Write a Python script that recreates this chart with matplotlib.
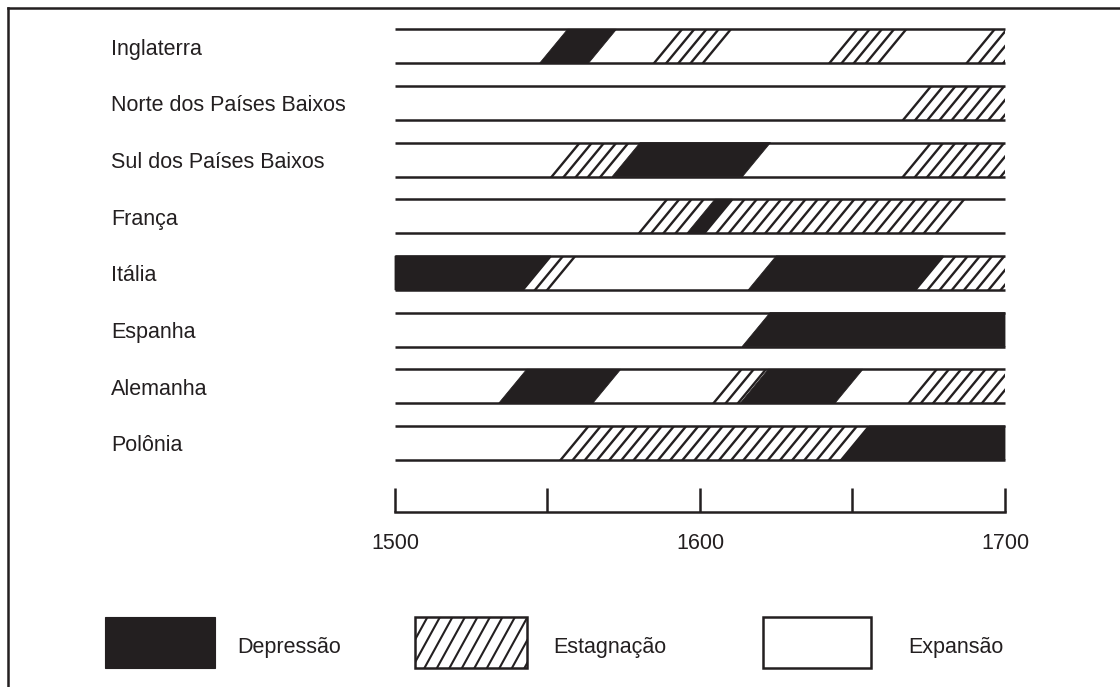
import numpy as np
import matplotlib
matplotlib.use("Agg")
import matplotlib.pyplot as plt
from matplotlib.patches import Polygon, Rectangle
from matplotlib import font_manager

# ---------------- data ----------------
countries = ["Inglaterra", "Norte dos Países Baixos", "Sul dos Países Baixos",
             "França", "Itália", "Espanha", "Alemanha", "Polônia"]

# boundaries (year at mid-height of each slanted boundary) and phase of each interval
inglaterra_bounds = [1500, 1552.0, 1568.0, 1589.5, 1605.7, 1647.0, 1663.0, 1692.0, 1700]
inglaterra_states = ["exp", "dep", "exp", "est", "exp", "est", "exp", "est"]
norte_bounds = [1500, 1671.2, 1700]
norte_states = ["exp", "est"]
sul_bounds = [1500, 1556.0, 1575.8, 1618.5, 1671.2, 1700]
sul_states = ["exp", "est", "dep", "exp", "est"]
franca_bounds = [1500, 1584.6, 1600.3, 1606.0, 1684.8, 1700]
franca_states = ["exp", "est", "dep", "est", "exp"]
italia_bounds = [1500, 1546.5, 1556.0, 1620.4, 1675.2, 1700]
italia_states = ["dep", "est", "exp", "dep", "est"]
espanha_bounds = [1500, 1618.4, 1700]
espanha_states = ["exp", "dep"]
alemanha_bounds = [1500, 1538.6, 1569.4, 1609.0, 1617.8, 1648.8, 1673.0, 1700]
alemanha_states = ["exp", "dep", "exp", "est", "dep", "exp", "est"]
polonia_bounds = [1500, 1558.9, 1651.0, 1700]
polonia_states = ["exp", "est", "dep"]

all_bounds = [inglaterra_bounds, norte_bounds, sul_bounds, franca_bounds,
              italia_bounds, espanha_bounds, alemanha_bounds, polonia_bounds]
all_states = [inglaterra_states, norte_states, sul_states, franca_states,
              italia_states, espanha_states, alemanha_states, polonia_states]

axis_ticks = [1500, 1550, 1600, 1650, 1700]
axis_labels = ["1500", "", "1600", "", "1700"]
legend_labels = ["Depressão", "Estagnação", "Expansão"]

# ---------------- style ----------------
INK = "#231f20"
names = {f.name for f in font_manager.fontManager.ttflist}
if "Liberation Sans Narrow" in names:
    FONT, FS = "Liberation Sans Narrow", 19
else:
    FONT, FS = "Liberation Sans", 15.5
plt.rcParams["font.family"] = [FONT, "DejaVu Sans"]

W, H = 1120, 687
fig = plt.figure(figsize=(W / 100, H / 100), dpi=100)
ax = fig.add_axes([0, 0, 1, 1])

X0, X1 = 1500, 1700
px_per_year = 3.05
x_left_px = 395
ax.set_xlim(X0 - x_left_px / px_per_year, X0 + (W - x_left_px) / px_per_year)
row0_px, row_sp = 46.3, 56.67
ax.set_ylim((H - row0_px) / row_sp, -row0_px / row_sp)

hh = 17.0 / row_sp          # half band height (rows)
slant = 4.6                 # half horizontal offset of boundaries (years)
step = 4.0                  # hatch spacing (years)
band_lw = 1.8
hatch_lw = 1.7


def seg_poly(a, b, r):
    top, bot = r - hh, r + hh
    lt = a + slant if a > X0 else X0
    lb = a - slant if a > X0 else X0
    rt = b + slant if b < X1 else X1
    rb = b - slant if b < X1 else X1
    return [(lb, bot), (lt, top), (rt, top), (rb, bot)]


for r, (bounds, states) in enumerate(zip(all_bounds, all_states)):
    band_clip = Rectangle((X0, r - hh), X1 - X0, 2 * hh, facecolor="none",
                          edgecolor="none", zorder=0)
    ax.add_patch(band_clip)
    for a, b, s in zip(bounds[:-1], bounds[1:], states):
        if s == "dep":
            ax.add_patch(Polygon(seg_poly(a, b, r), closed=True, facecolor=INK,
                                 edgecolor=INK, lw=0.6, zorder=2))
        elif s == "est":
            lim = b + 0.01 if b < X1 else X1 + slant
            p = a
            while p <= lim:
                ln, = ax.plot([p - 1.3 * slant, p + 1.3 * slant],
                              [r + 1.3 * hh, r - 1.3 * hh],
                              color=INK, lw=hatch_lw, solid_capstyle="butt", zorder=3)
                ln.set_clip_path(band_clip)
                p += step
    ax.hlines([r - hh, r + hh], X0, X1, colors=INK, lw=band_lw, zorder=4)
    ax.text(X0 - (x_left_px - 111) / px_per_year, r + 3 / row_sp, countries[r],
            ha="left", va="center", fontsize=FS, color=INK)

# time axis using the real bottom spine
for side in ["top", "left", "right"]:
    ax.spines[side].set_visible(False)
ax.spines["bottom"].set_position(("data", (512 - row0_px) / row_sp))
ax.spines["bottom"].set_bounds(X0, X1)
ax.spines["bottom"].set_linewidth(band_lw)
ax.spines["bottom"].set_color(INK)
ax.set_xticks(axis_ticks)
ax.set_xticklabels(axis_labels)
ax.tick_params(axis="x", direction="in", length=17.3, width=band_lw, color=INK,
               labelsize=FS, labelcolor=INK, pad=15)
ax.set_yticks([])
ax.set_facecolor("white")

# ---------------- overlay: frame and legend ----------------
ov = fig.add_axes([0, 0, 1, 1], facecolor="none")
ov.set_xlim(0, W)
ov.set_ylim(H, 0)
ov.axis("off")
ov.plot([7.5, W + 2], [7.5, 7.5], color=INK, lw=1.8, solid_capstyle="projecting")
ov.plot([7.5, 7.5], [7.5, H + 2], color=INK, lw=1.8, solid_capstyle="projecting")

by, bh = 617, 51
ov.add_patch(Rectangle((105, by), 110, bh, facecolor=INK, edgecolor=INK, lw=0.8))
hb = Rectangle((415, by), 112, bh, facecolor="white", edgecolor="none", zorder=1)
ov.add_patch(hb)
dxl = 0.55 * bh
x = 415 - dxl
while x < 527 + 2:
    ln, = ov.plot([x - 0.55 * 4, x + dxl + 0.55 * 4], [by + bh + 4, by - 4],
                  color=INK, lw=1.5, solid_capstyle="butt", zorder=2)
    ln.set_clip_path(hb)
    x += 12.5
ov.add_patch(Rectangle((415, by), 112, bh, facecolor="none", edgecolor=INK, lw=1.8,
                       zorder=3))
ov.add_patch(Rectangle((763, by), 108, bh, facecolor="white", edgecolor=INK, lw=1.8))

for lx, lab in zip([237, 553, 908], legend_labels):
    ov.text(lx, 647, lab, ha="left", va="center", fontsize=FS, color=INK)

fig.savefig("out.png", dpi=100)
